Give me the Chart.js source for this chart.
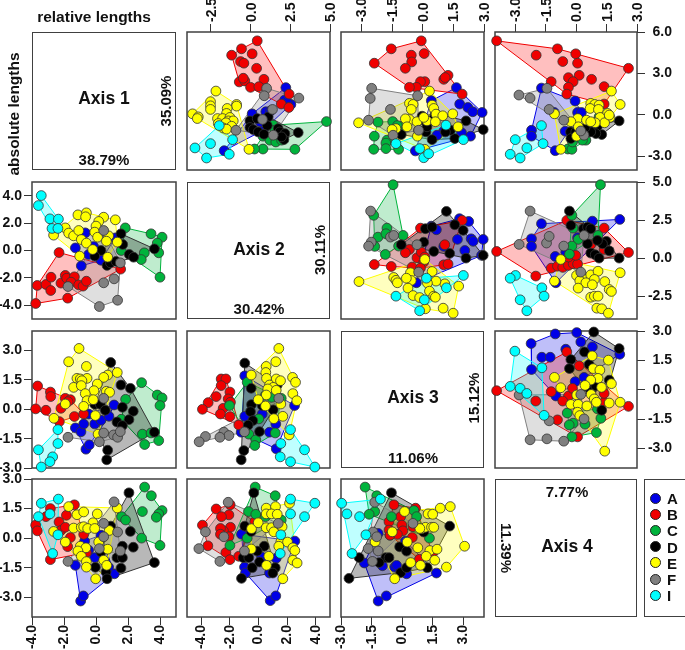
<!DOCTYPE html>
<html>
<head>
<meta charset="utf-8">
<script src="https://cdn.jsdelivr.net/npm/chart.js@4"></script>
<style>
  html, body { margin: 0; padding: 0; background: #fff; width: 685px; height: 650px; overflow: hidden; }
  canvas { position: absolute; left: 0; top: 0; }
  .t { position: absolute; font: bold 14px "Liberation Sans", Arial, sans-serif; color: #111; white-space: nowrap; transform: translate(-50%, -50%); }
  .box { position: absolute; border: 1.5px solid #404040; box-sizing: border-box; }
  .dot { position: absolute; width: 11px; height: 11px; border-radius: 50%; border: 1px solid #222; box-sizing: border-box; }
</style>
</head>
<body>
<script>
const groupNames = ['A', 'B', 'C', 'D', 'E', 'F', 'I'];
const groupColors = ['#0000e6', '#f00000', '#00b33c', '#000000', '#ffff00', '#808080', '#00ffff'];
const hullFills = ['rgba(0,0,230,0.25)', 'rgba(255,0,0,0.25)', 'rgba(0,179,60,0.25)', 'rgba(0,0,0,0.28)', 'rgba(255,255,0,0.25)', 'rgba(128,128,128,0.25)', 'rgba(0,255,255,0.25)'];

// tick labels
const ticksTop2 = [-2.5, 0, 2.5, 5];
const ticksTop3 = [-3, -1.5, 0, 1.5, 3];
const ticksRight1 = [6, 3, 0, -3];
const ticksRight2 = [5, 2.5, 0, -2.5];
const ticksRight3 = [3, 1.5, 0, -1.5, -3];
const ticksLeft2 = [4, 2, 0, -2, -4];
const ticksLeft3 = [3, 1.5, 0, -1.5, -3];
const ticksBottom1 = [-4, -2, 0, 2, 4];
const ticksBottom3 = [-3, -1.5, 0, 1.5, 3];

// row 1, column 2
const p12_A = [[2.22,1.97],[2.14,1.07],[2.54,.75],[2.3,.9],[.10,.07],[.96,.22],[1.26,.29],[.8,-1.12],[-1.66,-2.6],[.6,-.5]];
const p12_B = [[.42,5.36],[-.57,4.78],[-1.19,4.32],[.10,4.42],[-.63,3.86],[-.42,3.74],[.38,3.37],[.84,2.57],[-.71,2.38],[-.36,2.45],[-.46,2.65],[0,1.99],[.52,2.04],[2.43,1.5],[1.93,.78],[2.41,.53]];
const p12_C = [[4.78,-.49],[2.79,-2.5],[.78,-2.48],[.25,-2.48],[1.43,-.75],[1.53,-1.12],[.78,-1.55],[1.22,-1.84],[1.59,-1.97],[1.95,-1.84]];
const p12_D = [[-.04,-.44],[.42,-.27],[1.11,-.15],[-.04,-.92],[.17,-1.07],[.48,-1.24],[1.05,-.78],[1.74,-1],[1.84,-1.24],[3,-1.29],[2.16,-1.36],[2.1,-1.8],[.84,-1.41],[1.95,-1.6]];
const p12_E = [[-2.18,1.72],[-2.52,.95],[-2.52,.65],[-2.52,.39],[-3.65,.07],[-3.29,-.15],[-3.35,-.27],[-.88,.75],[-.88,.63],[-1.47,.46],[-1.51,.1],[-2.08,-.27],[-1.76,-.27],[-1.3,-.19],[-1.4,-.44],[-1.09,-.44],[-2.03,-.63],[-1.55,-.58],[-1.19,-.83],[-1.72,-.95],[-1.51,-1.04],[-.1,-2.5]];
const p12_F = [[1.01,1.92],[.86,1.38],[3.04,1.21],[1.38,.39],[.75,-.34],[-.92,-1.12],[1.43,-1.48]];
const p12_I = [[-1.97,-.78],[-1.13,-1.8],[-2.52,-2.09],[-3.5,-2.4],[-2.77,-3.13],[-1.34,-2.86]];

// row 1, column 3
const p13_A = [[1.65,1.97],[.42,1.02],[1.81,.78],[2.21,.53],[2.45,.22],[2.91,.17],[2.34,-1.55],[1.9,-1.3],[1.03,-1.19],[.7,-1.48],[-.36,-2.62]];
const p13_B = [[-.07,5.36],[-1.54,4.78],[-2.37,3.74],[.07,4.44],[-.56,4.32],[-.54,3.83],[-.85,3.37],[1.24,2.86],[1.03,2.57],[1.1,2.7],[.1,2.4],[-.11,2.4],[-.31,1.99],[-.65,1.99],[1.93,1.5]];
const p13_C = [[-1.47,-.49],[-2.19,-.53],[-1.01,-.83],[-2.37,-1.55],[-1.75,-1.84],[-1.8,-2.05],[-2.4,-2.5],[-1.8,-2.45],[-1.18,-2.5],[-1.24,-.78]];
const p13_D = [[2.96,-1.07],[2.12,-.44],[-.03,-.1],[.1,-.44],[.54,-.27],[.16,-1.24],[.46,-1.8],[-1.05,-1.43],[1.57,-1.72],[1.36,-1.12],[1.11,-1.24],[-.2,-1.12],[.21,-.87],[.62,.1]];
const p13_E = [[.33,1.72],[-.65,.83],[-.47,.75],[-.56,.39],[.46,.7],[.54,.46],[.65,.05],[.98,-.07],[1.47,.07],[-3.14,-.58],[-.65,-.34],[-.85,-.29],[-1.31,-1],[-1.5,-1.07],[-.28,-.5],[.21,-.44],[.05,-.19],[.62,-.5],[1.73,-.87],[-.26,-1.55],[.1,-2.5],[-.77,-.87]];
const p13_F = [[-2.5,1.92],[-2.57,1.19],[-.25,1.38],[-1.58,.39],[-2.65,-.39],[-1.45,-1.48],[-.2,-1.12]];
const p13_I = [[1.14,-.75],[1.99,-1.8],[-1.31,-2.09],[-.15,-2.45],[.05,-3.11],[.29,-2.82]];

// row 1, column 4
const p14_A = [[-1.71,1.94],[-.05,1],[.07,.17],[.26,.17],[-1.08,.17],[-2.2,-1.12],[-2.2,-1.55],[-1.03,-2.6],[-.54,-1.19]];
const p14_B = [[-3.92,5.36],[-.92,4.78],[-1.97,4.32],[-.02,4.42],[-.66,3.86],[.07,3.74],[.15,2.86],[-.38,2.69],[.76,2.57],[-.15,2.4],[-1.23,2.4],[-.38,1.99],[1.38,2.04],[2.58,3.37],[-.46,1.5],[1.38,.78]];
const p14_C = [[-.41,-2.48],[-.21,-2.5],[.48,-1.84],[1.13,-.15],[.31,-1.84],[-.18,-1.97]];
const p14_D = [[2.12,-.44],[1.26,-1.43],[-.28,-1.24],[-.26,-1.72],[.51,-1.12],[.8,-.87],[1.05,-.83],[.64,-.75],[.97,-1.36],[.72,-1.24],[.44,-.92],[-.02,-1.24]];
const p14_E = [[1.74,1.72],[2.17,.75],[-1.07,.07],[.72,.83],[.92,.75],[1.13,.7],[.69,.46],[1.1,.39],[1.55,.1],[1.67,-.19],[1.18,-.19],[1.4,-.58],[.94,-.58],[.08,-.27],[-.26,-.5],[.51,-.39],[.72,-.5],[.11,-.87],[.02,-1.55],[-.76,-2.5],[1.63,-.02]];
const p14_F = [[-2.82,1.43],[-2.27,1.21],[-1.44,1.92],[-1.33,.39],[-.61,-.39],[.39,-1.48],[.23,-1.17]];
const p14_I = [[-1.71,-.78],[-3,-1.8],[-1.63,-2.09],[-2.43,-2.4],[-3.25,-2.86],[-2.76,-3.13]];

// row 2, column 3
const p23_A = [[2.25,2.41],[1.8,2.59],[.67,1.86],[2.96,1.23],[2.37,1.27],[2.47,1.1],[1.7,1.23],[2.06,.5],[1.03,.77],[2.88,.18],[-.31,-1.62],[.42,2.1]];
const p23_B = [[1.93,2.48],[-.11,1.97],[-2.37,-.42],[-1.54,-.55],[-.65,.57],[-.85,.35],[-.28,.02],[-.07,.39],[.1,.07],[.05,-.26],[1.03,-.44],[1.24,-.39],[1.08,.88],[-.52,-.59],[-.11,-.66]];
const p23_C = [[-1.45,4.82],[-2.4,2.81],[-1.75,1.97],[-2.19,1.38],[-1.8,1.6],[-.96,1.49],[-1.83,.24],[-2.35,.77],[-1.18,.79]];
const p23_D = [[1.16,3.07],[.13,1.93],[.46,2.04],[1.57,2.19],[1.98,1.82],[-1.05,.88],[.05,1.05],[.54,.44],[1.32,.31],[2.12,0],[2.96,.18]];
const p23_E = [[-3.12,-1.54],[-1.42,-1.27],[-1.31,-1.46],[-1.24,-1.62],[.1,-.09],[-.6,-.96],[-.56,-1.47],[-.8,-1.32],[-.72,-1.97],[-.47,-2.46],[-.15,-2.59],[.13,-3.33],[1,-3.29],[1.49,-3.62],[1.76,-1.84],[1.08,-1.69],[.65,-1.51],[.46,-.88],[.23,-1.64],[.33,-2.17],[.54,-2.5],[.62,-2.57]];
const p23_F = [[-2.55,3.09],[-2.52,1.05],[-2.65,.79],[-1.58,1.38],[-1.42,1.49],[-.28,.88],[-.2,-.92]];
const p23_I = [[1.99,-1.14],[.18,-1.32],[1.16,-1.95],[-1.31,-2.5],[.08,-2.74],[-.15,-3.46]];

// row 2, column 4
const p24_A = [[-1.71,2.26],[2.15,2.54],[.8,2.43],[-2.2,1.27],[-2.2,.77],[-1.03,.11],[-1,-1.62],[.07,1.34],[-.51,.39]];
const p24_B = [[-3.92,.44],[-.46,2.48],[1.38,1.97],[2.58,.37],[-1.99,-1.18],[-1.23,-.66],[-.92,-.53],[-.66,-.61],[-.38,-.48],[-.15,-.37],[.07,-.39],[-.38,.07],[-.02,.18],[1.38,.57],[.72,.88]];
const p24_C = [[1.2,4.82],[-.21,2.81],[-.15,1.97],[.1,1.23],[1.08,1.49],[-.21,.79],[-.33,.26]];
const p24_D = [[-.33,3.09],[-.26,2.15],[.36,1.93],[.56,2.04],[.72,1.93],[.56,.94],[1.49,1.1],[1.3,.94],[1.05,1.16],[1.63,.48],[2.12,0],[.72,.33],[.94,.22],[1.13,0]];
const p24_E = [[-.76,-.09],[2.17,-.96],[-1.07,-1.51],[.02,-1.14],[.31,-1.32],[.72,-1.1],[1.08,-.86],[1.41,-1.54],[.9,-1.4],[.18,-1.49],[.48,-1.62],[.8,-1.75],[.1,-1.97],[1.63,-2.06],[1.74,-2.19],[.72,-2.57],[.9,-2.5],[1.08,-2.5],[1.02,-3.29],[1.26,-3.33],[1.59,-3.62]];
const p24_F = [[-2.27,3.09],[-2.81,.9],[-1.46,.99],[-1.33,1.43],[-.61,.79],[.39,1.49],[.23,-.92]];
const p24_I = [[-2.99,-1.14],[-3.25,-1.32],[-1.69,-1.95],[-1.58,-2.5],[-2.76,-2.74],[-2.43,-3.46]];

// row 3, column 4
const p34_A = [[-1.03,2.85],[.03,2.92],[-2.22,2.36],[.23,2.44],[.8,2.19],[2.15,1.81],[-1.69,1.66],[-1.28,1.66],[-2.2,1.03],[-.51,2.07],[.39,.63],[-.05,.41],[-1,-.32]];
const p34_B = [[-3.92,-.05],[-.46,1.93],[.15,1.22],[-1.23,-.1],[-.38,-.32],[-.66,-.58],[-1.99,-.58],[-.92,-1.54],[2.58,-.85],[1.38,-.64],[-.18,.07],[.07,-2.41],[1.38,-.19]];
const p34_C = [[-.44,-1.19],[-.15,-1.71],[-.34,-1.8],[.44,-1.76],[-.21,-2.41],[1,-2.19],[1.22,-1.46],[1.05,-.98]];
const p34_D = [[.87,2.95],[2.12,2.1],[.41,1.93],[-.26,1.54],[-.33,1.08],[.64,1.29],[1.63,.49],[.56,.15],[.8,.07],[1.26,-1.05],[.72,-.1],[.97,.2]];
const p34_E = [[-1.07,.63],[-.76,.1],[.79,1.73],[1.59,1.51],[.84,1.08],[1.17,1],[1.08,.58],[.72,.49],[1.74,.31],[.44,.22],[1.25,.12],[.74,-.24],[.89,-.47],[.03,-.27],[1,-.64],[1.63,-.68],[2.17,-.64],[-.26,-.75],[.1,-.75],[.53,-.83],[.07,-1.15],[.18,-1.32],[1.41,-3.14]];
const p34_F = [[-2.81,-.27],[.23,-.24],[-1.33,-1.59],[.39,-1.49],[-2.27,-2.56],[-1.44,-2.51],[-.61,-2.63]];
const p34_I = [[-3.02,1.97],[-1.69,1.12],[-3.25,.17],[-2.76,.07],[-2.43,-.19],[-1.58,-1.31]];

// row 2, column 1
const p21_A = [[-.67,1.29],[-1.29,.19],[-.15,.29],[1.21,.92],[-.46,-.29],[-.92,-1.12],[.31,-.71]];
const p21_B = [[-2.31,-.15],[-3.77,-3.87],[-1.77,-3.48],[-3.67,-2.55],[-3.13,-2.48],[-2.81,-1.95],[-2.83,-2.92],[-2.19,-2.38],[-1.92,-1.82],[-1.83,-2.02],[-1.35,-1.92],[-1.56,-2.31],[-1.08,-2.51],[-.81,-2.6],[-.6,-2.24],[1.54,-1.36]];
const p21_C = [[1.83,1.65],[3.44,1.22],[4.13,.97],[3.83,.54],[3.92,-.17],[3.02,-.17],[2.83,-.66],[4,-1.95],[1.58,0]];
const p21_D = [[1.56,1.22],[1.67,.44],[3.65,.12],[.31,0],[-.08,-.41],[.69,-1.09],[.9,-.9],[1.25,-.8],[2.08,-.29],[2.35,-.49]];
const p21_E = [[-2.65,1.12],[-1.92,1.65],[-1.71,1.27],[-1.4,1.07],[-1.13,2.6],[-.6,2.75],[-.65,2.46],[.48,2.43],[1.21,2.24],[.17,2.12],[0,1.78],[-1.08,1.46],[-.08,1.34],[.1,.97],[.79,1.07],[.65,.68],[1.33,.61],[-.92,.8],[-.6,.54],[-.21,.07],[-1.02,-.41],[.73,-.49]];
const p21_F = [[.48,1.46],[-1.75,-2.63],[.48,-2.36],[1.13,-2.07],[1.35,-3.63],[.21,-4.09],[1.52,-.9]];
const p21_I = [[-3.42,4.01],[-3.6,3.28],[-2.88,2.31],[-2.35,2.29],[-2.75,1.61],[-2.38,1.61]];

// row 3, column 1
const p31_A = [[1.13,.22],[-1.29,-.95],[-.94,-1.15],[-.46,-.24],[-.77,-.75],[-.08,-.75],[.31,-.56],[.81,-.36],[-.63,-2.04],[-.42,-1.82]];
const p31_B = [[-3.65,1.19],[-2.85,.88],[-2.83,.65],[-3.77,.02],[-3.13,-.05],[-1.92,.56],[-1.6,.49],[-2.19,.05],[-1.75,.39],[-1.35,-.37],[-.77,-.24],[-2.29,-.63]];
const p31_C = [[2.85,1.36],[3.83,.73],[4.13,.58],[4,.19],[1.85,.51],[1.58,-.51],[2.9,-1.27],[3.44,-1.21],[3.04,-1.8],[3.92,-1.6]];
const p31_D = [[.92,2.39],[1.56,1.24],[2.15,1.07],[1.65,.1],[2.33,-.1],[2.06,-.53],[1.31,-.65],[1.65,-.83],[-.08,.25],[.27,.25],[.58,-.05],[.73,-2.09],[.67,-2.58],[3.65,-1.17]];
const p31_E = [[-1.06,3.11],[-1.71,2.43],[-.6,2.19],[1.33,1.88],[.73,1.75],[.48,1.63],[-1.19,1.58],[-.98,1.55],[-.56,1.58],[-.88,1.46],[-1.4,1.12],[-.92,1.21],[.08,1.29],[-.13,.95],[-.67,.8],[.65,.92],[.85,.87],[-.56,.44],[-.17,.49],[-1.92,.27],[-.77,.15],[-.04,-.32],[-2.63,-.46],[.13,-1.27]];
const p31_F = [[.48,.56],[-1.75,-1.43],[.48,-1.21],[1.1,-1.31],[1.35,-1.43],[1.52,-1.14],[.21,-1.66]];
const p31_I = [[-2.38,-1.04],[-2.38,-1.75],[-3.6,-2.07],[-2.71,-2.43],[-2.88,-2.68],[-3.42,-2.95]];

// row 3, column 2
const p32_A = [[-.96,1.71],[2.52,.19],[-.96,-.36],[.26,-.24],[1.21,-.75],[.77,-1.17],[-1.21,-1.17],[-.33,-.54],[1.24,-2.02]];
const p32_B = [[-2.61,1.55],[-2.28,1.55],[-2.61,1.21],[-2,.88],[-2.96,.65],[-3.52,.34],[-3.92,0],[-2.12,.53],[-1.96,.36],[-2.47,.05],[-2.66,-.24],[-2,-.37],[-1.38,-.8]];
const p32_C = [[-.79,1.38],[-2.03,.19],[.49,.73],[.91,.61],[1.59,.56],[1.17,-1.21],[-.68,-1.27],[-.19,-1.56],[-.26,-1.85],[.02,-.49]];
const p32_D = [[-.96,2.36],[-.51,1.07],[-.49,.24],[1.31,1.24],[1.03,-.03],[.26,.19],[-.56,-.12],[-.4,-.58],[-.72,-.81],[.07,-1.14],[-1.03,-2.11],[-1.21,-2.58]];
const p32_E = [[1.42,3.11],[1.21,2.43],[.54,2.19],[.51,1.88],[-.51,1.75],[.56,1.58],[1.24,1.55],[1.54,1.46],[2.38,1.63],[2.59,1.38],[.77,1.24],[1.03,1.12],[.65,1.04],[1.24,.97],[.54,.73],[2.4,.8],[-.02,.49],[2.68,.44],[1.56,.27],[.49,.17],[1.7,-.36],[1.07,-.48],[2.14,-1.31]];
const p32_F = [[1.42,.56],[-.98,-1.15],[-2.42,-1.17],[-2.07,-1.34],[-2.7,-1.43],[-3.71,-1.39],[-4.15,-1.66]];
const p32_I = [[2.24,-1.04],[1.56,-1.75],[3.22,-2.07],[1.52,-2.43],[2.24,-2.68],[3.94,-2.95]];

// row 4, column 1
const p41_A = [[-1.29,-1.38],[-.96,-3.19],[-.79,-2.93],[1.15,-1.81],[-.08,-.99],[.79,-1.47],[.31,.15],[-.71,-.15],[-.46,-.61]];
const p41_B = [[-1.35,1.69],[-2.85,1.5],[-3.13,1.09],[-1.85,1.16],[-3.77,.66],[-3.67,.37],[-2.31,.82],[-2.19,.39],[-1.92,.55],[-1.6,.03],[-1.77,-.43],[-.77,.19],[-.6,-.73],[-2.85,-1.09]];
const p41_C = [[3.04,2.59],[3.46,2.15],[2.9,1.35],[4.13,1.4],[3.92,1.23],[3.77,1.06],[1.6,1.09],[1.85,.92],[2.85,0],[4,-.37]];
const p41_D = [[2.06,2.3],[.92,.61],[2.15,.34],[1.65,-.41],[2.33,-.46],[1.31,-.99],[1.65,-.99],[1.56,-1.52],[3.65,-1.24],[-.04,-1.48],[.63,-1.72],[.69,-2.06],[.31,-.7]];
const p41_E = [[-1.71,1.6],[-1.19,1.19],[-.77,1.33],[.08,1.23],[1.33,1.53],[-2.65,.34],[-1.4,.51],[-.92,.55],[-.77,.58],[-.19,.78],[-.52,.49],[-.08,.49],[.83,.39],[-1.92,-.2],[.17,-.19],[-.98,-.41],[-.63,-.49],[-1.13,-.65],[-.92,-.92],[-.6,-1.19],[-.6,-1.47],[.48,-1.12],[.67,-1.38],[.73,-.56],[-.02,-2.06]];
const p41_F = [[1.13,1.84],[.48,.75],[1.35,.31],[.48,.07],[.21,-.53],[1.52,-.65],[-1.75,-1.18]];
const p41_I = [[-3.42,1.77],[-2.35,1.98],[-3.6,1.09],[-2.88,1.23],[-2.38,.17],[-2.71,-.78]];

// row 4, column 2
const p42_A = [[-1.19,.2],[2.54,-.15],[.21,-.95],[1.24,-1.02],[-.98,-1.47],[-.91,-1.77],[.82,-3.17],[1.21,-2.93],[.77,-1.77]];
const p42_B = [[-1.98,1.69],[-2.96,1.48],[-2.07,1.18],[-2.59,1.09],[-3.92,.66],[-1.96,.55],[-2.45,.37],[-2.66,.49],[-2.66,.2],[-2.07,.07],[-3.54,-.39],[-2.28,-.73],[-2,-1.09],[-1.38,-.92],[-.26,.83]];
const p42_C = [[-.23,2.59],[1.17,2.15],[-.7,1.35],[-.19,1.21],[.49,1.09],[1.59,.92],[-.79,0],[-2,-.37]];
const p42_D = [[-.33,2.3],[-.96,.61],[-.51,.34],[.4,-.41],[-.09,-.66],[-1.07,-.99],[-.68,-.99],[-.44,-1.5],[-1.19,-2.04],[1.17,-1.5],[1,-1.77],[.07,-1.21]];
const p42_E = [[.54,1.52],[1.19,1.6],[2.17,1.77],[.54,1.23],[.91,1.23],[1.31,1.21],[-.49,.48],[-.02,.78],[.54,.53],[.91,.53],[1.07,.32],[1.65,.58],[1.56,-.19],[2.03,-.2],[2.4,-.49],[2.54,-.63],[1.42,-.41],[-.51,-.55],[.72,-.92],[2.4,-1.12],[2.7,-1.26],[.56,-1.38],[1.7,-2.06]];
const p42_F = [[-2.12,1.82],[-3.71,.32],[-2.42,.07],[-4.17,-.53],[-2.7,-1.18],[-.98,-.65],[1.38,.75]];
const p42_I = [[2.24,1.98],[3.94,1.77],[2.24,1.23],[3.22,1.09],[1.56,.17],[1.52,-.78]];

// row 4, column 3
const p43_A = [[-1.18,-3.19],[-.78,-2.93],[1.67,-1.77],[-1.86,-1.26],[-.97,-1.4],[-.37,-1.47],[-.28,-1.38],[.21,-1.81],[-.6,.15],[.16,-.15],[-1.18,.24]];
const p43_B = [[-.41,1.69],[-.65,.83],[-.08,1.09],[-.02,.66],[.52,.58],[.03,.37],[-.24,.19],[.49,.03],[.84,-1.07],[1.49,-.75],[-.65,.41],[.65,1.52],[-.6,.15]];
const p43_C = [[-1.82,2.59],[-1.25,2.15],[-1.35,1.35],[-1.62,1.21],[-.53,1.09],[.57,1.4],[.7,1.09],[1.33,0]];
const p43_D = [[-.53,2.3],[2.32,.61],[1.05,.31],[-.13,-.44],[.21,-.66],[-.81,-.99],[-.65,-.99],[-1.13,-1.24],[-2.11,-.99],[-2.61,-2.04],[-.08,-1.75],[1.22,-1.5],[.21,-1.5]];
const p43_E = [[1.86,1.52],[2.35,1.6],[1.26,1.23],[1.49,1.21],[.11,1.35],[-1.33,-.19],[-.49,.32],[.94,.48],[1.13,.55],[1.43,.55],[1.54,.55],[.24,-.2],[.76,-.49],[1.35,-.63],[1.7,-.56],[1.17,-.92],[1.59,-1.12],[.89,-1.38],[.41,-1.24],[2.16,-1.47],[3.05,-.41],[-.37,-2.06],[.86,.49]];
const p43_F = [[-1.35,1.82],[.52,.75],[-1.43,.31],[-1.25,.07],[-1.67,-.53],[-1.18,-.65],[-1.46,-1.18]];
const p43_I = [[-2.97,1.77],[-1.07,1.98],[-2.71,1.23],[-2.09,1.09],[-1.78,.17],[-2.46,-.78]];

// page positions of the panel frames
const colEdges = [[32, 176], [187, 330], [341, 484], [495, 637]];
const rowEdges = [[32, 170], [182, 319], [331, 468], [479, 617]];
const W = 685, H = 650;
const rightGap = 13; // right axis labels stop short of the page edge

const tickFont = { family: '"Liberation Sans", Arial, sans-serif', size: 14, weight: 'bold' };

const frame = {
    id: 'frame',
    beforeDatasetsDraw(chart) {
        const a = chart.chartArea;
        const c = chart.ctx;
        c.save();
        c.strokeStyle = '#404040';
        c.lineWidth = 1.5;
        c.strokeRect(a.left, a.top, a.right - a.left, a.bottom - a.top);
        c.restore();
    }
};

// convex hull, so the polygons follow the points
function hull(pts) {
    const s = pts.slice().sort((p, q) => p[0] - q[0] || p[1] - q[1]);
    const cross = (o, a, b) => (a[0] - o[0]) * (b[1] - o[1]) - (a[1] - o[1]) * (b[0] - o[0]);
    const lo = [], up = [];
    for (const p of s) {
        while (lo.length > 1 && cross(lo[lo.length - 2], lo[lo.length - 1], p) <= 0) lo.pop();
        lo.push(p);
    }
    for (const p of s.slice().reverse()) {
        while (up.length > 1 && cross(up[up.length - 2], up[up.length - 1], p) <= 0) up.pop();
        up.push(p);
    }
    return lo.slice(0, -1).concat(up);
}

function makeAxis(range, ticks, position, size, pad) {
    const horizontal = position === 'top' || position === 'bottom';
    const axis = {
        type: 'linear',
        min: range[0],
        max: range[1],
        display: !!ticks
    };
    if (!ticks) return axis;
    axis.position = position;
    axis.border = { display: false };
    axis.grid = { drawOnChartArea: false, drawTicks: true, tickLength: 8, tickColor: '#333', tickWidth: 1 };
    axis.ticks = { font: tickFont, color: '#111', padding: pad, autoSkip: false, callback: v => v.toFixed(1) };
    if (horizontal) {
        axis.ticks.minRotation = 90;
        axis.ticks.maxRotation = 90;
    }
    // rotated labels on a top axis land left of their tick otherwise
    if (position === 'top') axis.ticks.labelOffset = 18;
    if (position === 'right') axis.ticks.crossAlign = 'far';
    axis.afterBuildTicks = s => { s.ticks = ticks.map(v => ({ value: v })); };
    axis.afterFit = s => { if (horizontal) s.height = size; else s.width = size; };
    return axis;
}

function panel(r, c, groups, xRange, yRange, xTicks, yTicks, xPos, yPos) {
    const box = { l: colEdges[c][0], r: colEdges[c][1], t: rowEdges[r][0], b: rowEdges[r][1] };
    const cv = document.createElement('canvas');
    cv.width = W;
    cv.height = H;
    cv.style.width = W + 'px';
    cv.style.height = H + 'px';
    document.body.appendChild(cv);

    const pad = { left: box.l, right: W - box.r, top: box.t, bottom: H - box.b };
    const xSize = xPos === 'top' ? box.t : H - box.b;
    const ySize = yPos === 'left' ? box.l : W - rightGap - box.r;
    if (xTicks) pad[xPos] = 0;
    if (yTicks) pad[yPos] = yPos === 'right' ? rightGap : 0;

    const datasets = [];
    // first dataset ends up on top, so markers go in reverse group order
    for (let i = groups.length - 1; i >= 0; i--) {
        datasets.push({
            data: groups[i].map(p => ({ x: p[0], y: p[1] })),
            showLine: false,
            pointRadius: 4.9,
            pointBorderWidth: 0.8,
            pointBorderColor: '#333',
            pointBackgroundColor: groupColors[i],
            clip: false
        });
    }
    for (let i = groups.length - 1; i >= 0; i--) {
        datasets.push({
            data: hull(groups[i]).map(p => ({ x: p[0], y: p[1] })),
            showLine: true,
            fill: 'shape',
            tension: 0,
            pointRadius: 0,
            borderWidth: 1,
            borderColor: groupColors[i] === '#000000' ? '#333' : groupColors[i],
            backgroundColor: hullFills[i]
        });
    }

    new Chart(cv.getContext('2d'), {
        type: 'scatter',
        data: { datasets: datasets },
        options: {
            responsive: false,
            animation: false,
            events: [],
            layout: { padding: pad },
            plugins: { legend: { display: false }, tooltip: { enabled: false } },
            scales: {
                x: makeAxis(xRange, xTicks, xPos, xSize, xPos === 'top' ? 2 : 0),
                y: makeAxis(yRange, yTicks, yPos, ySize, yPos === 'left' ? 2 : 4)
            }
        },
        plugins: [frame]
    });
}

// absolute lengths, above the diagonal
const X2 = [-4, 5], X3 = [-4, 3], X4 = [-4, 3];
const Y1 = [-4, 6], Y2 = [-4, 5], Y3 = [-4, 3];
panel(0, 1, [p12_A, p12_B, p12_C, p12_D, p12_E, p12_F, p12_I], X2, Y1, ticksTop2, null, 'top', 'left');
panel(0, 2, [p13_A, p13_B, p13_C, p13_D, p13_E, p13_F, p13_I], X3, Y1, ticksTop3, null, 'top', 'left');
panel(0, 3, [p14_A, p14_B, p14_C, p14_D, p14_E, p14_F, p14_I], X4, Y1, ticksTop3, ticksRight1, 'top', 'right');
panel(1, 2, [p23_A, p23_B, p23_C, p23_D, p23_E, p23_F, p23_I], X3, Y2, null, null, 'top', 'left');
panel(1, 3, [p24_A, p24_B, p24_C, p24_D, p24_E, p24_F, p24_I], X4, Y2, null, ticksRight2, 'top', 'right');
panel(2, 3, [p34_A, p34_B, p34_C, p34_D, p34_E, p34_F, p34_I], X4, Y3, null, ticksRight3, 'top', 'right');

// relative lengths, below the diagonal
const x1 = [-4, 5], x2 = [-5, 5], x3 = [-3, 4];
const y2 = [-5, 5], y3 = [-3, 4], y4 = [-4, 3];
panel(1, 0, [p21_A, p21_B, p21_C, p21_D, p21_E, p21_F, p21_I], x1, y2, null, ticksLeft2, 'bottom', 'left');
panel(2, 0, [p31_A, p31_B, p31_C, p31_D, p31_E, p31_F, p31_I], x1, y3, null, ticksLeft3, 'bottom', 'left');
panel(2, 1, [p32_A, p32_B, p32_C, p32_D, p32_E, p32_F, p32_I], x2, y3, null, null, 'bottom', 'left');
panel(3, 0, [p41_A, p41_B, p41_C, p41_D, p41_E, p41_F, p41_I], x1, y4, ticksBottom1, ticksLeft3, 'bottom', 'left');
panel(3, 1, [p42_A, p42_B, p42_C, p42_D, p42_E, p42_F, p42_I], x2, y4, ticksBottom1, null, 'bottom', 'left');
panel(3, 2, [p43_A, p43_B, p43_C, p43_D, p43_E, p43_F, p43_I], x3, y4, ticksBottom3, null, 'bottom', 'left');

function addBox(l, t, r, b) {
    const d = document.createElement('div');
    d.className = 'box';
    d.style.cssText = 'left:' + l + 'px;top:' + t + 'px;width:' + (r - l) + 'px;height:' + (b - t) + 'px';
    document.body.appendChild(d);
}
function addText(str, x, y, size, rot) {
    const d = document.createElement('div');
    d.className = 't';
    d.textContent = str;
    d.style.left = x + 'px';
    d.style.top = y + 'px';
    d.style.fontSize = size + 'px';
    if (rot) d.style.transform = 'translate(-50%, -50%) rotate(' + rot + 'deg)';
    document.body.appendChild(d);
}

for (let i = 0; i < 4; i++) addBox(colEdges[i][0], rowEdges[i][0], colEdges[i][1], rowEdges[i][1]);

addText('relative lengths', 94, 17, 15.5);
addText('absolute lengths', 14, 114, 15.5, -90);

addText('Axis 1', 104, 98, 17.5);
addText('38.79%', 104, 159, 15);
addText('35.09%', 165, 101, 15, -90);
addText('Axis 2', 259, 249, 17.5);
addText('30.42%', 259, 308, 15);
addText('30.11%', 319, 250, 15, -90);
addText('Axis 3', 413, 397, 17.5);
addText('11.06%', 413, 457, 15);
addText('15.12%', 473, 398, 15, -90);
addText('Axis 4', 567, 546, 17.5);
addText('7.77%', 567, 491, 15);
addText('11.39%', 506, 548, 15, 90);

// legend box runs off the right edge of the page, as in the reference
addBox(644, 479, 700, 617);
groupNames.forEach((name, i) => {
    const y = 498 + i * 16.2;
    const d = document.createElement('div');
    d.className = 'dot';
    d.style.left = '650px';
    d.style.top = (y - 5.5) + 'px';
    d.style.background = groupColors[i];
    document.body.appendChild(d);
    const t = document.createElement('div');
    t.className = 't';
    t.style.cssText = 'left:667px;top:' + y + 'px;font-size:15px;transform:translateY(-50%)';
    t.textContent = name;
    document.body.appendChild(t);
});
</script>
</body>
</html>
